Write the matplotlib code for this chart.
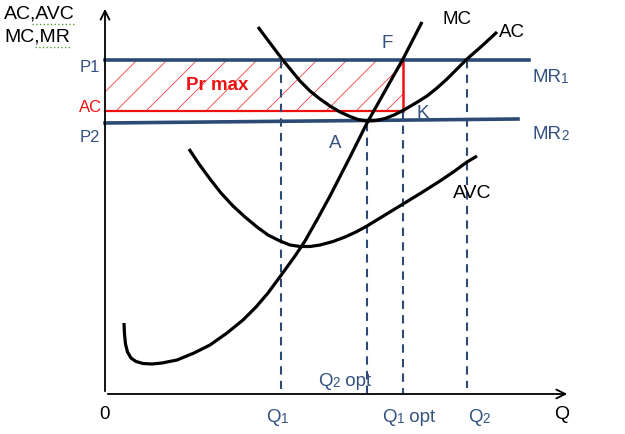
import numpy as np
from matplotlib import pyplot as plt
from matplotlib.patches import Rectangle

# curves (Q, P)
mc_q = [1.90, 1.95, 2.05, 2.25, 2.60, 3.10, 3.80, 4.70, 5.70, 7.20, 8.90, 10.5, 12.2, 13.8,
        15.1, 16.3, 17.7, 19.0, 20.0, 21.3, 22.5, 24.5, 26.2, 28.0, 29.8, 31.7]
mc_p = [7.10, 6.00, 5.00, 4.20, 3.60, 3.25, 3.05, 3.00, 3.10, 3.40, 4.10, 4.90, 6.10, 7.40,
        8.70, 10.1, 12.0, 13.8, 15.3, 17.6, 19.8, 23.7, 27.1, 30.3, 33.5, 37.2]
ac_q = [15.3, 15.9, 16.5, 17.1, 17.7, 18.6, 19.5, 20.5, 21.5, 22.5, 23.5, 24.5, 25.3, 26.2,
        27.1, 28.0, 28.9, 29.8, 31.0, 32.2, 33.2, 34.2, 35.2, 36.2, 37.0, 37.8, 38.5, 39.2]
ac_p = [36.7, 35.9, 35.1, 34.3, 33.5, 32.4, 31.3, 30.3, 29.5, 28.8, 28.2, 27.75, 27.45, 27.3,
        27.35, 27.55, 27.9, 28.35, 29.05, 29.8, 30.6, 31.5, 32.5, 33.5, 34.2, 34.9, 35.55, 36.2]
avc_q = [8.4, 9.4, 10.5, 11.6, 12.8, 14.0, 15.2, 16.3, 17.5, 18.5, 19.5, 20.5, 21.5, 22.8,
         24.0, 25.1, 26.2, 28.0, 29.8, 31.6, 33.5, 34.9, 36.2, 37.2]
avc_p = [24.5, 23.0, 21.5, 20.1, 18.8, 17.7, 16.7, 15.9, 15.3, 14.9, 14.75, 14.75, 14.9, 15.25,
         15.7, 16.2, 16.8, 17.9, 19.0, 20.1, 21.3, 22.25, 23.2, 23.8]

# price levels
p1 = 33.4
p2 = [27.1, 27.5]
ac_level = 28.3
mr1_end = 42.4
mr2_end = 41.3

# quantities
q1, q2_opt, q1_opt, q2 = 17.6, 26.2, 29.8, 36.2

blue = '#2c4a73'
blue_txt = '#34527f'
red = '#ee1111'

plt.rcParams['font.family'] = ['Liberation Sans', 'DejaVu Sans']
fig = plt.figure(figsize=(6.25, 4.35), dpi=100)
ax = fig.add_axes([0, 0, 1, 1])
ax.set_xlim(-10.5, 52)
ax.set_ylim(-4, 39.5)
ax.axis('off')


def sub_label(x, y, main, digit, rest='', size=13.5):
    # label with a small digit after it, like "Q1 opt"
    t = ax.text(x, y, main, fontsize=size, color=blue_txt, ha='left', va='bottom')
    d = ax.annotate(digit, xy=(1, 0), xycoords=t, fontsize=size * 0.72,
                    color=blue_txt, ha='left', va='bottom')
    if rest:
        ax.annotate(rest, xy=(1, 0), xycoords=d, fontsize=size,
                    color=blue_txt, ha='left', va='bottom')


# axes with arrows
ax.annotate('', xy=(46.5, 0), xytext=(0, 0),
            arrowprops=dict(arrowstyle='->', color='black', lw=1.3, mutation_scale=16))
ax.annotate('', xy=(0, 38.8), xytext=(0, 0),
            arrowprops=dict(arrowstyle='->', color='black', lw=1.3, mutation_scale=16))

# profit rectangle with hatch
rect = Rectangle((0, ac_level), q1_opt, p1 - ac_level, fill=False, lw=0)
ax.add_patch(rect)
h = p1 - ac_level
for c in np.arange(0.2 - h, q1_opt, 3.0):
    ln, = ax.plot([c, c + h], [ac_level, p1], color=red, lw=0.6, alpha=0.8)
    ln.set_clip_path(rect)
ax.plot([0, q1_opt], [ac_level, ac_level], color=red, lw=1.6)
ax.plot([q1_opt, q1_opt], [ac_level, p1], color=red, lw=1.8)

# dashed guides
dash = dict(color=blue, lw=1.5, ls=(0, (4, 3)))
ax.plot([q1, q1], [p1, 0.5], **dash)
ax.plot([q2_opt, q2_opt], [p2[0], 0], **dash)
ax.plot([q1_opt, q1_opt], [ac_level, 0], **dash)
ax.plot([q2, q2], [p1, 0.6], **dash)

# MR lines
ax.plot([0, mr1_end], [p1, p1], color=blue, lw=2.6)
ax.plot([0, mr2_end], p2, color=blue, lw=2.6)

# cost curves
for q, p in [(mc_q, mc_p), (ac_q, ac_p), (avc_q, avc_p)]:
    ax.plot(q, p, color='black', lw=2.3, solid_capstyle='butt', solid_joinstyle='round')

# labels
ax.text(-10.1, 38.1, 'AC,AVC', fontsize=14, va='center', ha='left')
ax.text(-10.1, 35.8, 'MC,MR', fontsize=14, va='center', ha='left')
ax.plot([-7.3, -2.9], [37.0, 37.0], color='#5aa02c', lw=1, ls=':')
ax.plot([-7.0, -3.5], [34.7, 34.7], color='#5aa02c', lw=1, ls=':')
ax.text(-1.5, 32.8, 'P1', fontsize=12, color=blue_txt, ha='center', va='center')
ax.text(-1.4, 28.8, 'AC', fontsize=12, color=red, ha='center', va='center')
ax.text(-1.5, 25.8, 'P2', fontsize=12, color=blue_txt, ha='center', va='center')
ax.text(11.2, 31.0, 'Pr max', fontsize=13.5, color=red, weight='bold', ha='center', va='center')
ax.text(0, -2.0, '0', fontsize=13.5, ha='center', va='center')
sub_label(16.1, -3.06, 'Q', '1')
sub_label(21.3, 0.54, 'Q', '2', ' opt')
sub_label(27.7, -3.06, 'Q', '1', ' opt')
sub_label(36.3, -3.06, 'Q', '2')
ax.text(45.7, -2.0, 'Q', fontsize=14, ha='center', va='center')
sub_label(42.7, 30.94, 'MR', '1')
sub_label(42.7, 25.24, 'MR', '2')
ax.text(35.2, 37.6, 'MC', fontsize=13.5, ha='center', va='center')
ax.text(39.4, 36.3, 'AC', fontsize=13.5, ha='left', va='center')
ax.text(28.2, 35.2, 'F', fontsize=13.5, color=blue_txt, ha='center', va='center')
ax.text(31.8, 28.2, 'K', fontsize=13.5, color=blue_txt, ha='center', va='center')
ax.text(23.0, 25.2, 'A', fontsize=13.5, color=blue_txt, ha='center', va='center')
ax.text(36.7, 20.2, 'AVC', fontsize=14, ha='center', va='center')

fig.savefig('out.png', dpi=100)
